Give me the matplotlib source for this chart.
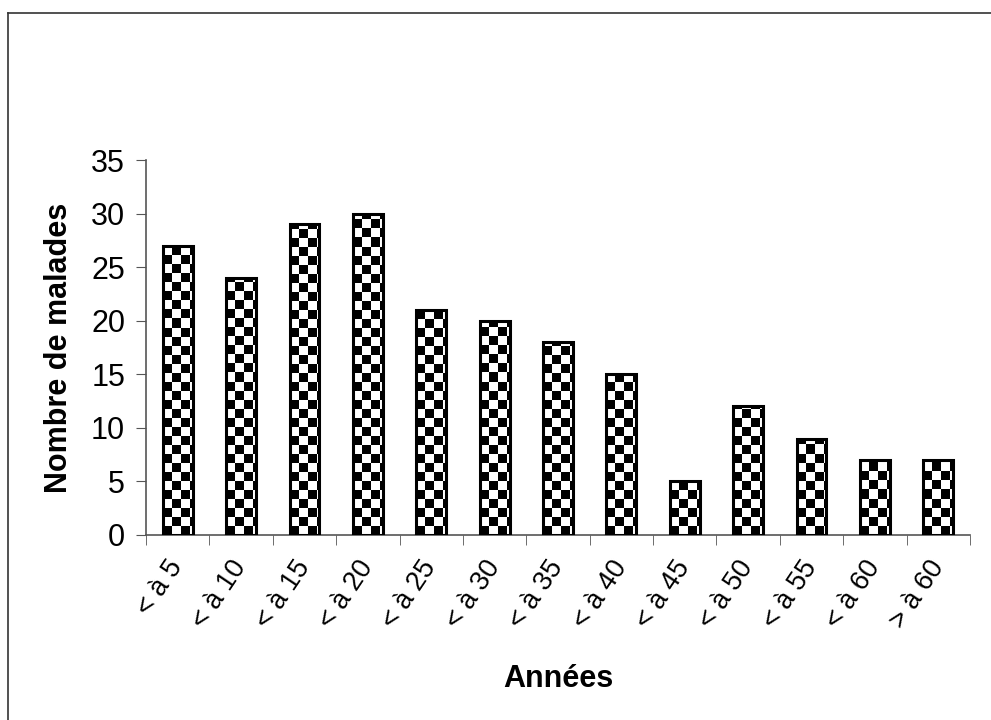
import numpy as np
import matplotlib.pyplot as plt
from matplotlib.lines import Line2D

categories = ['< à 5', '< à 10', '< à 15', '< à 20', '< à 25', '< à 30', '< à 35',
              '< à 40', '< à 45', '< à 50', '< à 55', '< à 60', '> à 60']
malades = [27, 24, 29, 30, 21, 20, 18, 15, 5, 12, 9, 7, 7]

plt.rcParams['font.family'] = ['Liberation Sans', 'DejaVu Sans']

fig = plt.figure(figsize=(9.91, 7.2), dpi=100)
ax = fig.add_axes([146 / 991, 1 - 535 / 720, (970 - 146) / 991, 375 / 720])

# outer frame (only top and left edges visible in the reference)
fig.add_artist(Line2D([8 / 991, 1], [1 - 13 / 720, 1 - 13 / 720],
                      transform=fig.transFigure, color='#333333', lw=1.2))
fig.add_artist(Line2D([8 / 991, 8 / 991], [0, 1 - 13 / 720],
                      transform=fig.transFigure, color='#333333', lw=1.2))

x = np.arange(len(categories))
bar_w = 0.47
bars = ax.bar(x, malades, width=bar_w, facecolor='none', edgecolor='black',
              linewidth=2.2, zorder=3)

# checkerboard fill clipped to each bar
sq_x = bar_w / 3.3
sq_y = 0.84
for b in bars:
    bx, bw, bh = b.get_x(), b.get_width(), b.get_height()
    ncol = int(np.ceil(bw / sq_x))
    nrow = int(np.ceil(bh / sq_y))
    ii, jj = np.indices((nrow, ncol))
    board = (ii + jj) % 2
    im = ax.imshow(board, cmap='gray', origin='lower', interpolation='nearest',
                   extent=(bx, bx + ncol * sq_x, 0, nrow * sq_y), aspect='auto',
                   zorder=2)
    im.set_clip_path(b)

ax.set_aspect('auto')
ax.set_xlim(-0.5, len(categories) - 0.5)
ax.set_ylim(0, 35)
ax.set_yticks(range(0, 36, 5))

ax.set_xticks(x)
ax.set_xticklabels(categories, rotation=56, ha='right', va='center',
                   rotation_mode='anchor')
ax.set_xticks(np.arange(-0.5, len(categories), 1), minor=True)
ax.tick_params(axis='x', which='major', length=0, pad=20, labelsize=19.5)
ax.tick_params(axis='x', which='minor', length=7, direction='out', color='#555555')
ax.tick_params(axis='y', length=7, direction='out', color='#555555', labelsize=22, pad=8)

for s in ['top', 'right']:
    ax.spines[s].set_visible(False)
for s in ['left', 'bottom']:
    ax.spines[s].set_color('#555555')
    ax.spines[s].set_linewidth(1.2)

ax.set_xlabel('Années', fontsize=22, fontweight='bold', labelpad=22)
ax.set_ylabel('Nombre de malades', fontsize=22, fontweight='bold', labelpad=12)

fig.savefig('out.png', dpi=100)
